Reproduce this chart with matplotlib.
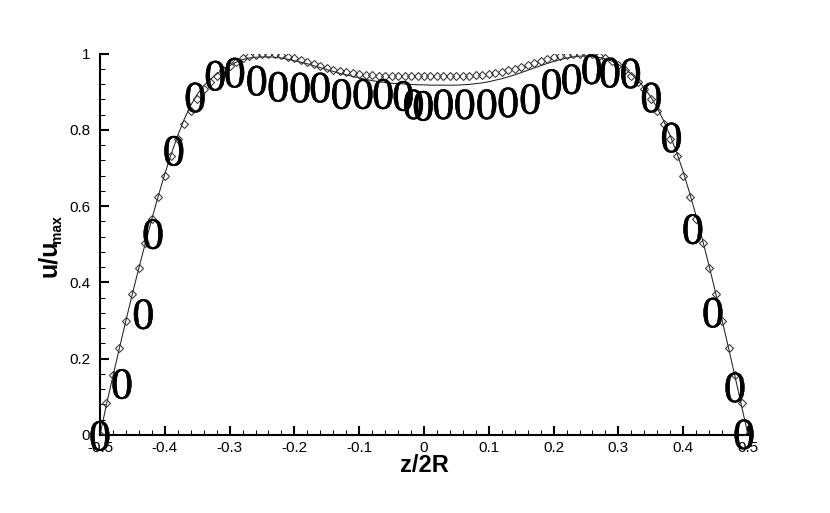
import numpy as np
import matplotlib
matplotlib.use("Agg")
import matplotlib.pyplot as plt
import matplotlib.patheffects as pe
from matplotlib.ticker import MultipleLocator, FixedLocator, FixedFormatter

plt.rcParams['font.family'] = ['Liberation Sans', 'DejaVu Sans']

# diamond series: z/2R = -0.5 .. 0.5, step 0.01
dx = [round(-0.5 + 0.01 * k, 2) for k in range(101)]
dy = [0.000, 0.085, 0.157, 0.228, 0.300, 0.370, 0.438, 0.502, 0.565, 0.624,
      0.680, 0.731, 0.775, 0.814, 0.849, 0.880, 0.906, 0.925, 0.942, 0.956,
      0.968, 0.979, 0.987, 0.993, 0.997, 0.999, 1.000, 0.999, 0.996, 0.992,
      0.987, 0.982, 0.977, 0.972, 0.967, 0.962, 0.958, 0.954, 0.951, 0.948,
      0.946, 0.944, 0.943, 0.942, 0.941, 0.941, 0.941, 0.941, 0.941, 0.941,
      0.941, 0.941, 0.941, 0.941, 0.941, 0.941, 0.941, 0.942, 0.943, 0.944,
      0.946, 0.949, 0.952, 0.956, 0.960, 0.965, 0.970, 0.975, 0.980, 0.985,
      0.990, 0.994, 0.997, 0.999, 1.000, 1.000, 0.998, 0.994, 0.988, 0.980,
      0.969, 0.956, 0.942, 0.925, 0.906, 0.880, 0.849, 0.814, 0.775, 0.731,
      0.680, 0.624, 0.565, 0.502, 0.438, 0.370, 0.300, 0.228, 0.157, 0.085,
      0.000]

# solid line series, same abscissae
ly = [0.000, 0.080, 0.155, 0.228, 0.300, 0.370, 0.438, 0.503, 0.566, 0.627,
      0.684, 0.737, 0.785, 0.828, 0.864, 0.893, 0.915, 0.932, 0.946, 0.958,
      0.968, 0.977, 0.984, 0.988, 0.990, 0.991, 0.991, 0.990, 0.988, 0.985,
      0.981, 0.977, 0.973, 0.968, 0.963, 0.958, 0.953, 0.948, 0.944, 0.940,
      0.936, 0.932, 0.929, 0.926, 0.924, 0.922, 0.921, 0.920, 0.919, 0.918,
      0.918, 0.917, 0.917, 0.917, 0.917, 0.917, 0.918, 0.919, 0.921, 0.923,
      0.926, 0.930, 0.934, 0.939, 0.944, 0.950, 0.956, 0.962, 0.968, 0.974,
      0.979, 0.984, 0.988, 0.991, 0.993, 0.994, 0.993, 0.990, 0.986, 0.980,
      0.971, 0.960, 0.946, 0.930, 0.910, 0.886, 0.857, 0.823, 0.784, 0.740,
      0.690, 0.634, 0.574, 0.510, 0.443, 0.373, 0.301, 0.228, 0.153, 0.077,
      0.000]

# "0" symbol series
gx = [-0.500, -0.466, -0.433, -0.418, -0.386, -0.353, -0.322, -0.292, -0.258,
      -0.225, -0.191, -0.160, -0.127, -0.094, -0.063, -0.032, -0.016, -0.001,
      0.030, 0.063, 0.097, 0.130, 0.164, 0.197, 0.228, 0.259, 0.287, 0.319,
      0.351, 0.382, 0.415, 0.446, 0.480, 0.494]
gy = [0.000, 0.136, 0.319, 0.529, 0.747, 0.887, 0.944, 0.952, 0.931,
      0.915, 0.913, 0.913, 0.896, 0.896, 0.896, 0.891, 0.869, 0.865,
      0.869, 0.869, 0.869, 0.874, 0.883, 0.922, 0.935, 0.961, 0.952, 0.950,
      0.887, 0.782, 0.542, 0.323, 0.127, 0.004]

xticks = [-0.5, -0.4, -0.3, -0.2, -0.1, 0, 0.1, 0.2, 0.3, 0.4, 0.5]
xtick_labels = ['-0.5', '-0.4', '-0.3', '-0.2', '-0.1', '0', '0.1', '0.2', '0.3', '0.4', '0.5']
yticks = [0, 0.2, 0.4, 0.6, 0.8, 1]
ytick_labels = ['0', '0.2', '0.4', '0.6', '0.8', '1']

fig = plt.figure(figsize=(8.3, 5.13), dpi=100)
ax = fig.add_axes([100/830, 78/513, 648/830, 381.5/513])

ax.plot(dx, ly, color='#222222', lw=0.75, zorder=2)
ax.plot(dx, dy, ls='none', marker='D', ms=4.4, mfc='none', mec='#333333', mew=0.75, zorder=3)
for x, y in zip(gx, gy):
    ax.text(x, y, '0', family='Liberation Serif', fontsize=32, ha='center', va='center_baseline',
            color='black', zorder=4,
            path_effects=[pe.withStroke(linewidth=0.3, foreground='black')])

ax.set_xlim(-0.5, 0.5)
ax.set_ylim(0, 1)
ax.spines['top'].set_visible(False)
ax.spines['right'].set_visible(False)
ax.spines['left'].set_linewidth(1.5)
ax.spines['bottom'].set_linewidth(1.5)

ax.xaxis.set_major_locator(FixedLocator(xticks))
ax.xaxis.set_major_formatter(FixedFormatter(xtick_labels))
ax.yaxis.set_major_locator(FixedLocator(yticks))
ax.yaxis.set_major_formatter(FixedFormatter(ytick_labels))
ax.xaxis.set_minor_locator(MultipleLocator(0.02))
ax.yaxis.set_minor_locator(MultipleLocator(0.04))
ax.tick_params(which='major', direction='in', length=6.5, width=1.5, labelsize=11)
ax.tick_params(axis='x', which='major', pad=4)
ax.tick_params(axis='y', which='major', pad=7)
ax.tick_params(which='minor', direction='in', length=3.5, width=0.75)

fig.text(424/830, 1 - 465/513, 'z/2R', fontsize=17, weight='bold', ha='center', va='center')
fig.text(49/830, 1 - 258/513, 'u/u', fontsize=18, weight='bold', rotation=90, ha='center', va='center')
fig.text(57/830, 1 - 229/513, 'max', fontsize=10, weight='bold', rotation=90, ha='center', va='center')

fig.savefig('out.png', dpi=100)
